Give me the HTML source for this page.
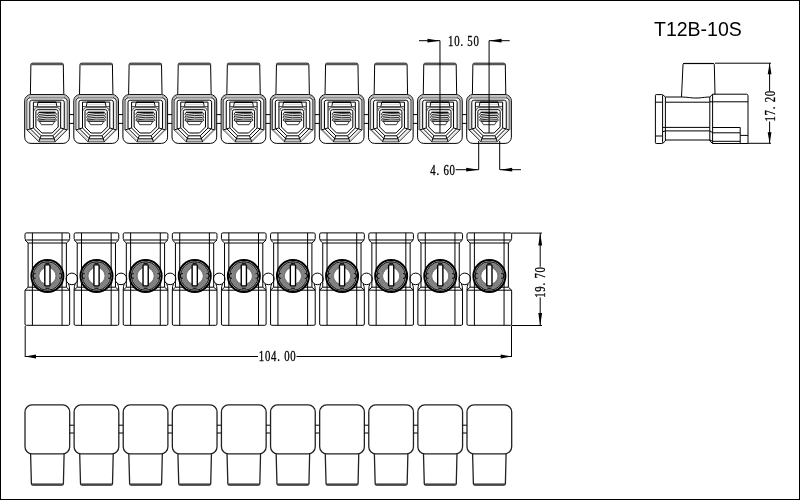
<!DOCTYPE html>
<html><head><meta charset="utf-8"><style>
html,body{margin:0;padding:0;background:#fff;}
body{width:800px;height:500px;overflow:hidden;}
svg{display:block;will-change:transform;}
.s{fill:none;stroke:#000;stroke-width:1;}
.b{fill:none;stroke:#222;stroke-width:1.3;}
.dim{font-family:"Liberation Serif",serif;font-size:14px;letter-spacing:1px;fill:#000;stroke:#000;stroke-width:0.3px;}
.title{font-family:"Liberation Sans",sans-serif;font-size:19.5px;fill:#000;}
</style></head><body>
<svg width="800" height="500" viewBox="0 0 800 500">
<rect x="0.5" y="0.5" width="799" height="499" fill="#fff" stroke="#000" stroke-width="1"/>
<path d="M30.4,94.4 L30.9,64.6 Q30.9,63.2 32.3,63.2 L61.9,63.2 Q63.3,63.2 63.3,64.6 L63.8,94.4" class="s"/>
<line x1="31.1" y1="64.2" x2="63.1" y2="64.2" stroke="#555" stroke-width="2.2"/>
<rect x="24.7" y="94.6" width="44.66" height="48.8" rx="6.2" class="s"/>
<path d="M25.9,130 V100.6 Q25.9,96.1 30.4,96.1 H63.66 Q68.16,96.1 68.16,100.6 V130" stroke="#888" stroke-width="0.9" fill="none"/>
<path d="M26.9,129.9 V100.1 L29.1,97.9 H64.96 L67.16,100.1 V129.9 L55.26,141.8 H38.8 Z" stroke="#333" stroke-width="0.9" fill="none"/>
<path d="M27.7,129.4 L38.4,140.1 H55.66 L66.36,129.4" stroke="#999" stroke-width="0.8" fill="none"/>
<path d="M28.5,100.5 V128.5 M65.56,100.5 V128.5" stroke="#e0e0e0" stroke-width="1" fill="none"/>
<path d="M29.8,128.3 L29.8,102.2 Q29.8,100.2 31.8,100.2 L62.26,100.2 Q64.26,100.2 64.26,102.2 L64.26,128.3 L53.76,138.8 L40.3,138.8 Z" class="s" stroke="#111" stroke-width="1.0"/>
<line x1="26.9" y1="129.9" x2="33.2" y2="128" class="s"/>
<line x1="67.16" y1="129.9" x2="60.86" y2="128" class="s"/>
<line x1="38.8" y1="141.8" x2="41" y2="135.8" class="s"/>
<line x1="55.26" y1="141.8" x2="53.06" y2="135.8" class="s"/>
<path d="M27,100.5 Q27.3,97.8 29.9,97.6 M67.06,100.5 Q66.76,97.8 64.16,97.6" stroke="#333" stroke-width="0.9" fill="none"/>
<path d="M37.1,106.6 L38,102.3 H56.06 L56.96,106.6" stroke="#111" stroke-width="1" fill="none"/>
<line x1="37.9" y1="102.3" x2="56.16" y2="102.3" stroke="#000" stroke-width="1.4"/>
<line x1="38.2" y1="104.4" x2="55.86" y2="104.4" stroke="#d0d0d0" stroke-width="1"/>
<line x1="33.4" y1="106.6" x2="60.66" y2="106.6" stroke="#333" stroke-width="0.9"/>
<path d="M33.4,128 L33.4,102.1 Q33.4,102.1 33.4,102.1 L60.66,102.1 Q60.66,102.1 60.66,102.1 L60.66,128 L52.86,135.8 L41.2,135.8 Z" class="s" stroke="#000"/>
<path d="M34.6,110.5 V109.7 Q34.6,107.7 36.6,107.7 H57.46 Q59.46,107.7 59.46,109.7 V110.5" stroke="#333" stroke-width="0.9" fill="none"/>
<path d="M35.9,127 L35.9,111.7 Q35.9,109.7 37.9,109.7 L56.16,109.7 Q58.16,109.7 58.16,111.7 L58.16,127 L52.16,133 L41.9,133 Z" class="s" stroke-width="1.3"/>
<line x1="38.7" y1="112.3" x2="55.36" y2="112.3" stroke="#000" stroke-width="1.3"/>
<path d="M38.9,114.5 Q47,113.1 55.16,113.9" stroke="#000" stroke-width="0.85" fill="none"/>
<path d="M38.9,116.3 Q47,114.9 55.16,115.7" stroke="#000" stroke-width="0.85" fill="none"/>
<path d="M38.9,118.1 Q47,116.7 55.16,117.5" stroke="#000" stroke-width="0.85" fill="none"/>
<path d="M38.9,119.9 Q47,118.5 55.16,119.3" stroke="#000" stroke-width="0.85" fill="none"/>
<polyline points="38.7,112.4 37.6,114.3 38.6,115.7 37.6,117.3 38.6,118.7 37.6,120.3 38.9,121.2" stroke="#222" stroke-width="1" fill="none"/><polyline points="55.36,112.4 56.46,114.3 55.46,115.7 56.46,117.3 55.46,118.7 56.46,120.3 55.16,121.2" stroke="#222" stroke-width="1" fill="none"/>
<line x1="38.9" y1="121.2" x2="55.16" y2="121.2" stroke="#000" stroke-width="1.2"/>
<path d="M39.5,121.6 L41.5,124.7 L52.56,124.7 L54.56,121.6" stroke="#222" stroke-width="0.9" fill="none"/>
<path d="M69.36,114.6 H73.81 M69.36,123.4 H73.81" class="s"/>
<path d="M79.51,94.4 L80.01,64.6 Q80.01,63.2 81.41,63.2 L111.01,63.2 Q112.41,63.2 112.41,64.6 L112.91,94.4" class="s"/>
<line x1="80.21" y1="64.2" x2="112.21" y2="64.2" stroke="#555" stroke-width="2.2"/>
<rect x="73.81" y="94.6" width="44.66" height="48.8" rx="6.2" class="s"/>
<path d="M75.01,130 V100.6 Q75.01,96.1 79.51,96.1 H112.77 Q117.27,96.1 117.27,100.6 V130" stroke="#888" stroke-width="0.9" fill="none"/>
<path d="M76.01,129.9 V100.1 L78.21,97.9 H114.07 L116.27,100.1 V129.9 L104.37,141.8 H87.91 Z" stroke="#333" stroke-width="0.9" fill="none"/>
<path d="M76.81,129.4 L87.51,140.1 H104.77 L115.47,129.4" stroke="#999" stroke-width="0.8" fill="none"/>
<path d="M77.61,100.5 V128.5 M114.67,100.5 V128.5" stroke="#e0e0e0" stroke-width="1" fill="none"/>
<path d="M78.91,128.3 L78.91,102.2 Q78.91,100.2 80.91,100.2 L111.37,100.2 Q113.37,100.2 113.37,102.2 L113.37,128.3 L102.87,138.8 L89.41,138.8 Z" class="s" stroke="#111" stroke-width="1.0"/>
<line x1="76.01" y1="129.9" x2="82.31" y2="128" class="s"/>
<line x1="116.27" y1="129.9" x2="109.97" y2="128" class="s"/>
<line x1="87.91" y1="141.8" x2="90.11" y2="135.8" class="s"/>
<line x1="104.37" y1="141.8" x2="102.17" y2="135.8" class="s"/>
<path d="M76.11,100.5 Q76.41,97.8 79.01,97.6 M116.17,100.5 Q115.87,97.8 113.27,97.6" stroke="#333" stroke-width="0.9" fill="none"/>
<path d="M86.21,106.6 L87.11,102.3 H105.17 L106.07,106.6" stroke="#111" stroke-width="1" fill="none"/>
<line x1="87.01" y1="102.3" x2="105.27" y2="102.3" stroke="#000" stroke-width="1.4"/>
<line x1="87.31" y1="104.4" x2="104.97" y2="104.4" stroke="#d0d0d0" stroke-width="1"/>
<line x1="82.51" y1="106.6" x2="109.77" y2="106.6" stroke="#333" stroke-width="0.9"/>
<path d="M82.51,128 L82.51,102.1 Q82.51,102.1 82.51,102.1 L109.77,102.1 Q109.77,102.1 109.77,102.1 L109.77,128 L101.97,135.8 L90.31,135.8 Z" class="s" stroke="#000"/>
<path d="M83.71,110.5 V109.7 Q83.71,107.7 85.71,107.7 H106.57 Q108.57,107.7 108.57,109.7 V110.5" stroke="#333" stroke-width="0.9" fill="none"/>
<path d="M85.01,127 L85.01,111.7 Q85.01,109.7 87.01,109.7 L105.27,109.7 Q107.27,109.7 107.27,111.7 L107.27,127 L101.27,133 L91.01,133 Z" class="s" stroke-width="1.3"/>
<line x1="87.81" y1="112.3" x2="104.47" y2="112.3" stroke="#000" stroke-width="1.3"/>
<path d="M88.01,114.5 Q96.11,113.1 104.27,113.9" stroke="#000" stroke-width="0.85" fill="none"/>
<path d="M88.01,116.3 Q96.11,114.9 104.27,115.7" stroke="#000" stroke-width="0.85" fill="none"/>
<path d="M88.01,118.1 Q96.11,116.7 104.27,117.5" stroke="#000" stroke-width="0.85" fill="none"/>
<path d="M88.01,119.9 Q96.11,118.5 104.27,119.3" stroke="#000" stroke-width="0.85" fill="none"/>
<polyline points="87.81,112.4 86.71,114.3 87.71,115.7 86.71,117.3 87.71,118.7 86.71,120.3 88.01,121.2" stroke="#222" stroke-width="1" fill="none"/><polyline points="104.47,112.4 105.57,114.3 104.57,115.7 105.57,117.3 104.57,118.7 105.57,120.3 104.27,121.2" stroke="#222" stroke-width="1" fill="none"/>
<line x1="88.01" y1="121.2" x2="104.27" y2="121.2" stroke="#000" stroke-width="1.2"/>
<path d="M88.61,121.6 L90.61,124.7 L101.67,124.7 L103.67,121.6" stroke="#222" stroke-width="0.9" fill="none"/>
<path d="M118.47,114.6 H122.92 M118.47,123.4 H122.92" class="s"/>
<path d="M128.62,94.4 L129.12,64.6 Q129.12,63.2 130.52,63.2 L160.12,63.2 Q161.52,63.2 161.52,64.6 L162.02,94.4" class="s"/>
<line x1="129.32" y1="64.2" x2="161.32" y2="64.2" stroke="#555" stroke-width="2.2"/>
<rect x="122.92" y="94.6" width="44.66" height="48.8" rx="6.2" class="s"/>
<path d="M124.12,130 V100.6 Q124.12,96.1 128.62,96.1 H161.88 Q166.38,96.1 166.38,100.6 V130" stroke="#888" stroke-width="0.9" fill="none"/>
<path d="M125.12,129.9 V100.1 L127.32,97.9 H163.18 L165.38,100.1 V129.9 L153.48,141.8 H137.02 Z" stroke="#333" stroke-width="0.9" fill="none"/>
<path d="M125.92,129.4 L136.62,140.1 H153.88 L164.58,129.4" stroke="#999" stroke-width="0.8" fill="none"/>
<path d="M126.72,100.5 V128.5 M163.78,100.5 V128.5" stroke="#e0e0e0" stroke-width="1" fill="none"/>
<path d="M128.02,128.3 L128.02,102.2 Q128.02,100.2 130.02,100.2 L160.48,100.2 Q162.48,100.2 162.48,102.2 L162.48,128.3 L151.98,138.8 L138.52,138.8 Z" class="s" stroke="#111" stroke-width="1.0"/>
<line x1="125.12" y1="129.9" x2="131.42" y2="128" class="s"/>
<line x1="165.38" y1="129.9" x2="159.08" y2="128" class="s"/>
<line x1="137.02" y1="141.8" x2="139.22" y2="135.8" class="s"/>
<line x1="153.48" y1="141.8" x2="151.28" y2="135.8" class="s"/>
<path d="M125.22,100.5 Q125.52,97.8 128.12,97.6 M165.28,100.5 Q164.98,97.8 162.38,97.6" stroke="#333" stroke-width="0.9" fill="none"/>
<path d="M135.32,106.6 L136.22,102.3 H154.28 L155.18,106.6" stroke="#111" stroke-width="1" fill="none"/>
<line x1="136.12" y1="102.3" x2="154.38" y2="102.3" stroke="#000" stroke-width="1.4"/>
<line x1="136.42" y1="104.4" x2="154.08" y2="104.4" stroke="#d0d0d0" stroke-width="1"/>
<line x1="131.62" y1="106.6" x2="158.88" y2="106.6" stroke="#333" stroke-width="0.9"/>
<path d="M131.62,128 L131.62,102.1 Q131.62,102.1 131.62,102.1 L158.88,102.1 Q158.88,102.1 158.88,102.1 L158.88,128 L151.08,135.8 L139.42,135.8 Z" class="s" stroke="#000"/>
<path d="M132.82,110.5 V109.7 Q132.82,107.7 134.82,107.7 H155.68 Q157.68,107.7 157.68,109.7 V110.5" stroke="#333" stroke-width="0.9" fill="none"/>
<path d="M134.12,127 L134.12,111.7 Q134.12,109.7 136.12,109.7 L154.38,109.7 Q156.38,109.7 156.38,111.7 L156.38,127 L150.38,133 L140.12,133 Z" class="s" stroke-width="1.3"/>
<line x1="136.92" y1="112.3" x2="153.58" y2="112.3" stroke="#000" stroke-width="1.3"/>
<path d="M137.12,114.5 Q145.22,113.1 153.38,113.9" stroke="#000" stroke-width="0.85" fill="none"/>
<path d="M137.12,116.3 Q145.22,114.9 153.38,115.7" stroke="#000" stroke-width="0.85" fill="none"/>
<path d="M137.12,118.1 Q145.22,116.7 153.38,117.5" stroke="#000" stroke-width="0.85" fill="none"/>
<path d="M137.12,119.9 Q145.22,118.5 153.38,119.3" stroke="#000" stroke-width="0.85" fill="none"/>
<polyline points="136.92,112.4 135.82,114.3 136.82,115.7 135.82,117.3 136.82,118.7 135.82,120.3 137.12,121.2" stroke="#222" stroke-width="1" fill="none"/><polyline points="153.58,112.4 154.68,114.3 153.68,115.7 154.68,117.3 153.68,118.7 154.68,120.3 153.38,121.2" stroke="#222" stroke-width="1" fill="none"/>
<line x1="137.12" y1="121.2" x2="153.38" y2="121.2" stroke="#000" stroke-width="1.2"/>
<path d="M137.72,121.6 L139.72,124.7 L150.78,124.7 L152.78,121.6" stroke="#222" stroke-width="0.9" fill="none"/>
<path d="M167.58,114.6 H172.03 M167.58,123.4 H172.03" class="s"/>
<path d="M177.73,94.4 L178.23,64.6 Q178.23,63.2 179.63,63.2 L209.23,63.2 Q210.63,63.2 210.63,64.6 L211.13,94.4" class="s"/>
<line x1="178.43" y1="64.2" x2="210.43" y2="64.2" stroke="#555" stroke-width="2.2"/>
<rect x="172.03" y="94.6" width="44.66" height="48.8" rx="6.2" class="s"/>
<path d="M173.23,130 V100.6 Q173.23,96.1 177.73,96.1 H210.99 Q215.49,96.1 215.49,100.6 V130" stroke="#888" stroke-width="0.9" fill="none"/>
<path d="M174.23,129.9 V100.1 L176.43,97.9 H212.29 L214.49,100.1 V129.9 L202.59,141.8 H186.13 Z" stroke="#333" stroke-width="0.9" fill="none"/>
<path d="M175.03,129.4 L185.73,140.1 H202.99 L213.69,129.4" stroke="#999" stroke-width="0.8" fill="none"/>
<path d="M175.83,100.5 V128.5 M212.89,100.5 V128.5" stroke="#e0e0e0" stroke-width="1" fill="none"/>
<path d="M177.13,128.3 L177.13,102.2 Q177.13,100.2 179.13,100.2 L209.59,100.2 Q211.59,100.2 211.59,102.2 L211.59,128.3 L201.09,138.8 L187.63,138.8 Z" class="s" stroke="#111" stroke-width="1.0"/>
<line x1="174.23" y1="129.9" x2="180.53" y2="128" class="s"/>
<line x1="214.49" y1="129.9" x2="208.19" y2="128" class="s"/>
<line x1="186.13" y1="141.8" x2="188.33" y2="135.8" class="s"/>
<line x1="202.59" y1="141.8" x2="200.39" y2="135.8" class="s"/>
<path d="M174.33,100.5 Q174.63,97.8 177.23,97.6 M214.39,100.5 Q214.09,97.8 211.49,97.6" stroke="#333" stroke-width="0.9" fill="none"/>
<path d="M184.43,106.6 L185.33,102.3 H203.39 L204.29,106.6" stroke="#111" stroke-width="1" fill="none"/>
<line x1="185.23" y1="102.3" x2="203.49" y2="102.3" stroke="#000" stroke-width="1.4"/>
<line x1="185.53" y1="104.4" x2="203.19" y2="104.4" stroke="#d0d0d0" stroke-width="1"/>
<line x1="180.73" y1="106.6" x2="207.99" y2="106.6" stroke="#333" stroke-width="0.9"/>
<path d="M180.73,128 L180.73,102.1 Q180.73,102.1 180.73,102.1 L207.99,102.1 Q207.99,102.1 207.99,102.1 L207.99,128 L200.19,135.8 L188.53,135.8 Z" class="s" stroke="#000"/>
<path d="M181.93,110.5 V109.7 Q181.93,107.7 183.93,107.7 H204.79 Q206.79,107.7 206.79,109.7 V110.5" stroke="#333" stroke-width="0.9" fill="none"/>
<path d="M183.23,127 L183.23,111.7 Q183.23,109.7 185.23,109.7 L203.49,109.7 Q205.49,109.7 205.49,111.7 L205.49,127 L199.49,133 L189.23,133 Z" class="s" stroke-width="1.3"/>
<line x1="186.03" y1="112.3" x2="202.69" y2="112.3" stroke="#000" stroke-width="1.3"/>
<path d="M186.23,114.5 Q194.33,113.1 202.49,113.9" stroke="#000" stroke-width="0.85" fill="none"/>
<path d="M186.23,116.3 Q194.33,114.9 202.49,115.7" stroke="#000" stroke-width="0.85" fill="none"/>
<path d="M186.23,118.1 Q194.33,116.7 202.49,117.5" stroke="#000" stroke-width="0.85" fill="none"/>
<path d="M186.23,119.9 Q194.33,118.5 202.49,119.3" stroke="#000" stroke-width="0.85" fill="none"/>
<polyline points="186.03,112.4 184.93,114.3 185.93,115.7 184.93,117.3 185.93,118.7 184.93,120.3 186.23,121.2" stroke="#222" stroke-width="1" fill="none"/><polyline points="202.69,112.4 203.79,114.3 202.79,115.7 203.79,117.3 202.79,118.7 203.79,120.3 202.49,121.2" stroke="#222" stroke-width="1" fill="none"/>
<line x1="186.23" y1="121.2" x2="202.49" y2="121.2" stroke="#000" stroke-width="1.2"/>
<path d="M186.83,121.6 L188.83,124.7 L199.89,124.7 L201.89,121.6" stroke="#222" stroke-width="0.9" fill="none"/>
<path d="M216.69,114.6 H221.14 M216.69,123.4 H221.14" class="s"/>
<path d="M226.84,94.4 L227.34,64.6 Q227.34,63.2 228.74,63.2 L258.34,63.2 Q259.74,63.2 259.74,64.6 L260.24,94.4" class="s"/>
<line x1="227.54" y1="64.2" x2="259.54" y2="64.2" stroke="#555" stroke-width="2.2"/>
<rect x="221.14" y="94.6" width="44.66" height="48.8" rx="6.2" class="s"/>
<path d="M222.34,130 V100.6 Q222.34,96.1 226.84,96.1 H260.1 Q264.6,96.1 264.6,100.6 V130" stroke="#888" stroke-width="0.9" fill="none"/>
<path d="M223.34,129.9 V100.1 L225.54,97.9 H261.4 L263.6,100.1 V129.9 L251.7,141.8 H235.24 Z" stroke="#333" stroke-width="0.9" fill="none"/>
<path d="M224.14,129.4 L234.84,140.1 H252.1 L262.8,129.4" stroke="#999" stroke-width="0.8" fill="none"/>
<path d="M224.94,100.5 V128.5 M262,100.5 V128.5" stroke="#e0e0e0" stroke-width="1" fill="none"/>
<path d="M226.24,128.3 L226.24,102.2 Q226.24,100.2 228.24,100.2 L258.7,100.2 Q260.7,100.2 260.7,102.2 L260.7,128.3 L250.2,138.8 L236.74,138.8 Z" class="s" stroke="#111" stroke-width="1.0"/>
<line x1="223.34" y1="129.9" x2="229.64" y2="128" class="s"/>
<line x1="263.6" y1="129.9" x2="257.3" y2="128" class="s"/>
<line x1="235.24" y1="141.8" x2="237.44" y2="135.8" class="s"/>
<line x1="251.7" y1="141.8" x2="249.5" y2="135.8" class="s"/>
<path d="M223.44,100.5 Q223.74,97.8 226.34,97.6 M263.5,100.5 Q263.2,97.8 260.6,97.6" stroke="#333" stroke-width="0.9" fill="none"/>
<path d="M233.54,106.6 L234.44,102.3 H252.5 L253.4,106.6" stroke="#111" stroke-width="1" fill="none"/>
<line x1="234.34" y1="102.3" x2="252.6" y2="102.3" stroke="#000" stroke-width="1.4"/>
<line x1="234.64" y1="104.4" x2="252.3" y2="104.4" stroke="#d0d0d0" stroke-width="1"/>
<line x1="229.84" y1="106.6" x2="257.1" y2="106.6" stroke="#333" stroke-width="0.9"/>
<path d="M229.84,128 L229.84,102.1 Q229.84,102.1 229.84,102.1 L257.1,102.1 Q257.1,102.1 257.1,102.1 L257.1,128 L249.3,135.8 L237.64,135.8 Z" class="s" stroke="#000"/>
<path d="M231.04,110.5 V109.7 Q231.04,107.7 233.04,107.7 H253.9 Q255.9,107.7 255.9,109.7 V110.5" stroke="#333" stroke-width="0.9" fill="none"/>
<path d="M232.34,127 L232.34,111.7 Q232.34,109.7 234.34,109.7 L252.6,109.7 Q254.6,109.7 254.6,111.7 L254.6,127 L248.6,133 L238.34,133 Z" class="s" stroke-width="1.3"/>
<line x1="235.14" y1="112.3" x2="251.8" y2="112.3" stroke="#000" stroke-width="1.3"/>
<path d="M235.34,114.5 Q243.44,113.1 251.6,113.9" stroke="#000" stroke-width="0.85" fill="none"/>
<path d="M235.34,116.3 Q243.44,114.9 251.6,115.7" stroke="#000" stroke-width="0.85" fill="none"/>
<path d="M235.34,118.1 Q243.44,116.7 251.6,117.5" stroke="#000" stroke-width="0.85" fill="none"/>
<path d="M235.34,119.9 Q243.44,118.5 251.6,119.3" stroke="#000" stroke-width="0.85" fill="none"/>
<polyline points="235.14,112.4 234.04,114.3 235.04,115.7 234.04,117.3 235.04,118.7 234.04,120.3 235.34,121.2" stroke="#222" stroke-width="1" fill="none"/><polyline points="251.8,112.4 252.9,114.3 251.9,115.7 252.9,117.3 251.9,118.7 252.9,120.3 251.6,121.2" stroke="#222" stroke-width="1" fill="none"/>
<line x1="235.34" y1="121.2" x2="251.6" y2="121.2" stroke="#000" stroke-width="1.2"/>
<path d="M235.94,121.6 L237.94,124.7 L249,124.7 L251,121.6" stroke="#222" stroke-width="0.9" fill="none"/>
<path d="M265.8,114.6 H270.25 M265.8,123.4 H270.25" class="s"/>
<path d="M275.95,94.4 L276.45,64.6 Q276.45,63.2 277.85,63.2 L307.45,63.2 Q308.85,63.2 308.85,64.6 L309.35,94.4" class="s"/>
<line x1="276.65" y1="64.2" x2="308.65" y2="64.2" stroke="#555" stroke-width="2.2"/>
<rect x="270.25" y="94.6" width="44.66" height="48.8" rx="6.2" class="s"/>
<path d="M271.45,130 V100.6 Q271.45,96.1 275.95,96.1 H309.21 Q313.71,96.1 313.71,100.6 V130" stroke="#888" stroke-width="0.9" fill="none"/>
<path d="M272.45,129.9 V100.1 L274.65,97.9 H310.51 L312.71,100.1 V129.9 L300.81,141.8 H284.35 Z" stroke="#333" stroke-width="0.9" fill="none"/>
<path d="M273.25,129.4 L283.95,140.1 H301.21 L311.91,129.4" stroke="#999" stroke-width="0.8" fill="none"/>
<path d="M274.05,100.5 V128.5 M311.11,100.5 V128.5" stroke="#e0e0e0" stroke-width="1" fill="none"/>
<path d="M275.35,128.3 L275.35,102.2 Q275.35,100.2 277.35,100.2 L307.81,100.2 Q309.81,100.2 309.81,102.2 L309.81,128.3 L299.31,138.8 L285.85,138.8 Z" class="s" stroke="#111" stroke-width="1.0"/>
<line x1="272.45" y1="129.9" x2="278.75" y2="128" class="s"/>
<line x1="312.71" y1="129.9" x2="306.41" y2="128" class="s"/>
<line x1="284.35" y1="141.8" x2="286.55" y2="135.8" class="s"/>
<line x1="300.81" y1="141.8" x2="298.61" y2="135.8" class="s"/>
<path d="M272.55,100.5 Q272.85,97.8 275.45,97.6 M312.61,100.5 Q312.31,97.8 309.71,97.6" stroke="#333" stroke-width="0.9" fill="none"/>
<path d="M282.65,106.6 L283.55,102.3 H301.61 L302.51,106.6" stroke="#111" stroke-width="1" fill="none"/>
<line x1="283.45" y1="102.3" x2="301.71" y2="102.3" stroke="#000" stroke-width="1.4"/>
<line x1="283.75" y1="104.4" x2="301.41" y2="104.4" stroke="#d0d0d0" stroke-width="1"/>
<line x1="278.95" y1="106.6" x2="306.21" y2="106.6" stroke="#333" stroke-width="0.9"/>
<path d="M278.95,128 L278.95,102.1 Q278.95,102.1 278.95,102.1 L306.21,102.1 Q306.21,102.1 306.21,102.1 L306.21,128 L298.41,135.8 L286.75,135.8 Z" class="s" stroke="#000"/>
<path d="M280.15,110.5 V109.7 Q280.15,107.7 282.15,107.7 H303.01 Q305.01,107.7 305.01,109.7 V110.5" stroke="#333" stroke-width="0.9" fill="none"/>
<path d="M281.45,127 L281.45,111.7 Q281.45,109.7 283.45,109.7 L301.71,109.7 Q303.71,109.7 303.71,111.7 L303.71,127 L297.71,133 L287.45,133 Z" class="s" stroke-width="1.3"/>
<line x1="284.25" y1="112.3" x2="300.91" y2="112.3" stroke="#000" stroke-width="1.3"/>
<path d="M284.45,114.5 Q292.55,113.1 300.71,113.9" stroke="#000" stroke-width="0.85" fill="none"/>
<path d="M284.45,116.3 Q292.55,114.9 300.71,115.7" stroke="#000" stroke-width="0.85" fill="none"/>
<path d="M284.45,118.1 Q292.55,116.7 300.71,117.5" stroke="#000" stroke-width="0.85" fill="none"/>
<path d="M284.45,119.9 Q292.55,118.5 300.71,119.3" stroke="#000" stroke-width="0.85" fill="none"/>
<polyline points="284.25,112.4 283.15,114.3 284.15,115.7 283.15,117.3 284.15,118.7 283.15,120.3 284.45,121.2" stroke="#222" stroke-width="1" fill="none"/><polyline points="300.91,112.4 302.01,114.3 301.01,115.7 302.01,117.3 301.01,118.7 302.01,120.3 300.71,121.2" stroke="#222" stroke-width="1" fill="none"/>
<line x1="284.45" y1="121.2" x2="300.71" y2="121.2" stroke="#000" stroke-width="1.2"/>
<path d="M285.05,121.6 L287.05,124.7 L298.11,124.7 L300.11,121.6" stroke="#222" stroke-width="0.9" fill="none"/>
<path d="M314.91,114.6 H319.36 M314.91,123.4 H319.36" class="s"/>
<path d="M325.06,94.4 L325.56,64.6 Q325.56,63.2 326.96,63.2 L356.56,63.2 Q357.96,63.2 357.96,64.6 L358.46,94.4" class="s"/>
<line x1="325.76" y1="64.2" x2="357.76" y2="64.2" stroke="#555" stroke-width="2.2"/>
<rect x="319.36" y="94.6" width="44.66" height="48.8" rx="6.2" class="s"/>
<path d="M320.56,130 V100.6 Q320.56,96.1 325.06,96.1 H358.32 Q362.82,96.1 362.82,100.6 V130" stroke="#888" stroke-width="0.9" fill="none"/>
<path d="M321.56,129.9 V100.1 L323.76,97.9 H359.62 L361.82,100.1 V129.9 L349.92,141.8 H333.46 Z" stroke="#333" stroke-width="0.9" fill="none"/>
<path d="M322.36,129.4 L333.06,140.1 H350.32 L361.02,129.4" stroke="#999" stroke-width="0.8" fill="none"/>
<path d="M323.16,100.5 V128.5 M360.22,100.5 V128.5" stroke="#e0e0e0" stroke-width="1" fill="none"/>
<path d="M324.46,128.3 L324.46,102.2 Q324.46,100.2 326.46,100.2 L356.92,100.2 Q358.92,100.2 358.92,102.2 L358.92,128.3 L348.42,138.8 L334.96,138.8 Z" class="s" stroke="#111" stroke-width="1.0"/>
<line x1="321.56" y1="129.9" x2="327.86" y2="128" class="s"/>
<line x1="361.82" y1="129.9" x2="355.52" y2="128" class="s"/>
<line x1="333.46" y1="141.8" x2="335.66" y2="135.8" class="s"/>
<line x1="349.92" y1="141.8" x2="347.72" y2="135.8" class="s"/>
<path d="M321.66,100.5 Q321.96,97.8 324.56,97.6 M361.72,100.5 Q361.42,97.8 358.82,97.6" stroke="#333" stroke-width="0.9" fill="none"/>
<path d="M331.76,106.6 L332.66,102.3 H350.72 L351.62,106.6" stroke="#111" stroke-width="1" fill="none"/>
<line x1="332.56" y1="102.3" x2="350.82" y2="102.3" stroke="#000" stroke-width="1.4"/>
<line x1="332.86" y1="104.4" x2="350.52" y2="104.4" stroke="#d0d0d0" stroke-width="1"/>
<line x1="328.06" y1="106.6" x2="355.32" y2="106.6" stroke="#333" stroke-width="0.9"/>
<path d="M328.06,128 L328.06,102.1 Q328.06,102.1 328.06,102.1 L355.32,102.1 Q355.32,102.1 355.32,102.1 L355.32,128 L347.52,135.8 L335.86,135.8 Z" class="s" stroke="#000"/>
<path d="M329.26,110.5 V109.7 Q329.26,107.7 331.26,107.7 H352.12 Q354.12,107.7 354.12,109.7 V110.5" stroke="#333" stroke-width="0.9" fill="none"/>
<path d="M330.56,127 L330.56,111.7 Q330.56,109.7 332.56,109.7 L350.82,109.7 Q352.82,109.7 352.82,111.7 L352.82,127 L346.82,133 L336.56,133 Z" class="s" stroke-width="1.3"/>
<line x1="333.36" y1="112.3" x2="350.02" y2="112.3" stroke="#000" stroke-width="1.3"/>
<path d="M333.56,114.5 Q341.66,113.1 349.82,113.9" stroke="#000" stroke-width="0.85" fill="none"/>
<path d="M333.56,116.3 Q341.66,114.9 349.82,115.7" stroke="#000" stroke-width="0.85" fill="none"/>
<path d="M333.56,118.1 Q341.66,116.7 349.82,117.5" stroke="#000" stroke-width="0.85" fill="none"/>
<path d="M333.56,119.9 Q341.66,118.5 349.82,119.3" stroke="#000" stroke-width="0.85" fill="none"/>
<polyline points="333.36,112.4 332.26,114.3 333.26,115.7 332.26,117.3 333.26,118.7 332.26,120.3 333.56,121.2" stroke="#222" stroke-width="1" fill="none"/><polyline points="350.02,112.4 351.12,114.3 350.12,115.7 351.12,117.3 350.12,118.7 351.12,120.3 349.82,121.2" stroke="#222" stroke-width="1" fill="none"/>
<line x1="333.56" y1="121.2" x2="349.82" y2="121.2" stroke="#000" stroke-width="1.2"/>
<path d="M334.16,121.6 L336.16,124.7 L347.22,124.7 L349.22,121.6" stroke="#222" stroke-width="0.9" fill="none"/>
<path d="M364.02,114.6 H368.47 M364.02,123.4 H368.47" class="s"/>
<path d="M374.17,94.4 L374.67,64.6 Q374.67,63.2 376.07,63.2 L405.67,63.2 Q407.07,63.2 407.07,64.6 L407.57,94.4" class="s"/>
<line x1="374.87" y1="64.2" x2="406.87" y2="64.2" stroke="#555" stroke-width="2.2"/>
<rect x="368.47" y="94.6" width="44.66" height="48.8" rx="6.2" class="s"/>
<path d="M369.67,130 V100.6 Q369.67,96.1 374.17,96.1 H407.43 Q411.93,96.1 411.93,100.6 V130" stroke="#888" stroke-width="0.9" fill="none"/>
<path d="M370.67,129.9 V100.1 L372.87,97.9 H408.73 L410.93,100.1 V129.9 L399.03,141.8 H382.57 Z" stroke="#333" stroke-width="0.9" fill="none"/>
<path d="M371.47,129.4 L382.17,140.1 H399.43 L410.13,129.4" stroke="#999" stroke-width="0.8" fill="none"/>
<path d="M372.27,100.5 V128.5 M409.33,100.5 V128.5" stroke="#e0e0e0" stroke-width="1" fill="none"/>
<path d="M373.57,128.3 L373.57,102.2 Q373.57,100.2 375.57,100.2 L406.03,100.2 Q408.03,100.2 408.03,102.2 L408.03,128.3 L397.53,138.8 L384.07,138.8 Z" class="s" stroke="#111" stroke-width="1.0"/>
<line x1="370.67" y1="129.9" x2="376.97" y2="128" class="s"/>
<line x1="410.93" y1="129.9" x2="404.63" y2="128" class="s"/>
<line x1="382.57" y1="141.8" x2="384.77" y2="135.8" class="s"/>
<line x1="399.03" y1="141.8" x2="396.83" y2="135.8" class="s"/>
<path d="M370.77,100.5 Q371.07,97.8 373.67,97.6 M410.83,100.5 Q410.53,97.8 407.93,97.6" stroke="#333" stroke-width="0.9" fill="none"/>
<path d="M380.87,106.6 L381.77,102.3 H399.83 L400.73,106.6" stroke="#111" stroke-width="1" fill="none"/>
<line x1="381.67" y1="102.3" x2="399.93" y2="102.3" stroke="#000" stroke-width="1.4"/>
<line x1="381.97" y1="104.4" x2="399.63" y2="104.4" stroke="#d0d0d0" stroke-width="1"/>
<line x1="377.17" y1="106.6" x2="404.43" y2="106.6" stroke="#333" stroke-width="0.9"/>
<path d="M377.17,128 L377.17,102.1 Q377.17,102.1 377.17,102.1 L404.43,102.1 Q404.43,102.1 404.43,102.1 L404.43,128 L396.63,135.8 L384.97,135.8 Z" class="s" stroke="#000"/>
<path d="M378.37,110.5 V109.7 Q378.37,107.7 380.37,107.7 H401.23 Q403.23,107.7 403.23,109.7 V110.5" stroke="#333" stroke-width="0.9" fill="none"/>
<path d="M379.67,127 L379.67,111.7 Q379.67,109.7 381.67,109.7 L399.93,109.7 Q401.93,109.7 401.93,111.7 L401.93,127 L395.93,133 L385.67,133 Z" class="s" stroke-width="1.3"/>
<line x1="382.47" y1="112.3" x2="399.13" y2="112.3" stroke="#000" stroke-width="1.3"/>
<path d="M382.67,114.5 Q390.77,113.1 398.93,113.9" stroke="#000" stroke-width="0.85" fill="none"/>
<path d="M382.67,116.3 Q390.77,114.9 398.93,115.7" stroke="#000" stroke-width="0.85" fill="none"/>
<path d="M382.67,118.1 Q390.77,116.7 398.93,117.5" stroke="#000" stroke-width="0.85" fill="none"/>
<path d="M382.67,119.9 Q390.77,118.5 398.93,119.3" stroke="#000" stroke-width="0.85" fill="none"/>
<polyline points="382.47,112.4 381.37,114.3 382.37,115.7 381.37,117.3 382.37,118.7 381.37,120.3 382.67,121.2" stroke="#222" stroke-width="1" fill="none"/><polyline points="399.13,112.4 400.23,114.3 399.23,115.7 400.23,117.3 399.23,118.7 400.23,120.3 398.93,121.2" stroke="#222" stroke-width="1" fill="none"/>
<line x1="382.67" y1="121.2" x2="398.93" y2="121.2" stroke="#000" stroke-width="1.2"/>
<path d="M383.27,121.6 L385.27,124.7 L396.33,124.7 L398.33,121.6" stroke="#222" stroke-width="0.9" fill="none"/>
<path d="M413.13,114.6 H417.58 M413.13,123.4 H417.58" class="s"/>
<path d="M423.28,94.4 L423.78,64.6 Q423.78,63.2 425.18,63.2 L454.78,63.2 Q456.18,63.2 456.18,64.6 L456.68,94.4" class="s"/>
<line x1="423.98" y1="64.2" x2="455.98" y2="64.2" stroke="#555" stroke-width="2.2"/>
<rect x="417.58" y="94.6" width="44.66" height="48.8" rx="6.2" class="s"/>
<path d="M418.78,130 V100.6 Q418.78,96.1 423.28,96.1 H456.54 Q461.04,96.1 461.04,100.6 V130" stroke="#888" stroke-width="0.9" fill="none"/>
<path d="M419.78,129.9 V100.1 L421.98,97.9 H457.84 L460.04,100.1 V129.9 L448.14,141.8 H431.68 Z" stroke="#333" stroke-width="0.9" fill="none"/>
<path d="M420.58,129.4 L431.28,140.1 H448.54 L459.24,129.4" stroke="#999" stroke-width="0.8" fill="none"/>
<path d="M421.38,100.5 V128.5 M458.44,100.5 V128.5" stroke="#e0e0e0" stroke-width="1" fill="none"/>
<path d="M422.68,128.3 L422.68,102.2 Q422.68,100.2 424.68,100.2 L455.14,100.2 Q457.14,100.2 457.14,102.2 L457.14,128.3 L446.64,138.8 L433.18,138.8 Z" class="s" stroke="#111" stroke-width="1.0"/>
<line x1="419.78" y1="129.9" x2="426.08" y2="128" class="s"/>
<line x1="460.04" y1="129.9" x2="453.74" y2="128" class="s"/>
<line x1="431.68" y1="141.8" x2="433.88" y2="135.8" class="s"/>
<line x1="448.14" y1="141.8" x2="445.94" y2="135.8" class="s"/>
<path d="M419.88,100.5 Q420.18,97.8 422.78,97.6 M459.94,100.5 Q459.64,97.8 457.04,97.6" stroke="#333" stroke-width="0.9" fill="none"/>
<path d="M429.98,106.6 L430.88,102.3 H448.94 L449.84,106.6" stroke="#111" stroke-width="1" fill="none"/>
<line x1="430.78" y1="102.3" x2="449.04" y2="102.3" stroke="#000" stroke-width="1.4"/>
<line x1="431.08" y1="104.4" x2="448.74" y2="104.4" stroke="#d0d0d0" stroke-width="1"/>
<line x1="426.28" y1="106.6" x2="453.54" y2="106.6" stroke="#333" stroke-width="0.9"/>
<path d="M426.28,128 L426.28,102.1 Q426.28,102.1 426.28,102.1 L453.54,102.1 Q453.54,102.1 453.54,102.1 L453.54,128 L445.74,135.8 L434.08,135.8 Z" class="s" stroke="#000"/>
<path d="M427.48,110.5 V109.7 Q427.48,107.7 429.48,107.7 H450.34 Q452.34,107.7 452.34,109.7 V110.5" stroke="#333" stroke-width="0.9" fill="none"/>
<path d="M428.78,127 L428.78,111.7 Q428.78,109.7 430.78,109.7 L449.04,109.7 Q451.04,109.7 451.04,111.7 L451.04,127 L445.04,133 L434.78,133 Z" class="s" stroke-width="1.3"/>
<line x1="431.58" y1="112.3" x2="448.24" y2="112.3" stroke="#000" stroke-width="1.3"/>
<path d="M431.78,114.5 Q439.88,113.1 448.04,113.9" stroke="#000" stroke-width="0.85" fill="none"/>
<path d="M431.78,116.3 Q439.88,114.9 448.04,115.7" stroke="#000" stroke-width="0.85" fill="none"/>
<path d="M431.78,118.1 Q439.88,116.7 448.04,117.5" stroke="#000" stroke-width="0.85" fill="none"/>
<path d="M431.78,119.9 Q439.88,118.5 448.04,119.3" stroke="#000" stroke-width="0.85" fill="none"/>
<polyline points="431.58,112.4 430.48,114.3 431.48,115.7 430.48,117.3 431.48,118.7 430.48,120.3 431.78,121.2" stroke="#222" stroke-width="1" fill="none"/><polyline points="448.24,112.4 449.34,114.3 448.34,115.7 449.34,117.3 448.34,118.7 449.34,120.3 448.04,121.2" stroke="#222" stroke-width="1" fill="none"/>
<line x1="431.78" y1="121.2" x2="448.04" y2="121.2" stroke="#000" stroke-width="1.2"/>
<path d="M432.38,121.6 L434.38,124.7 L445.44,124.7 L447.44,121.6" stroke="#222" stroke-width="0.9" fill="none"/>
<path d="M462.24,114.6 H466.69 M462.24,123.4 H466.69" class="s"/>
<path d="M472.39,94.4 L472.89,64.6 Q472.89,63.2 474.29,63.2 L503.89,63.2 Q505.29,63.2 505.29,64.6 L505.79,94.4" class="s"/>
<line x1="473.09" y1="64.2" x2="505.09" y2="64.2" stroke="#555" stroke-width="2.2"/>
<rect x="466.69" y="94.6" width="44.66" height="48.8" rx="6.2" class="s"/>
<path d="M467.89,130 V100.6 Q467.89,96.1 472.39,96.1 H505.65 Q510.15,96.1 510.15,100.6 V130" stroke="#888" stroke-width="0.9" fill="none"/>
<path d="M468.89,129.9 V100.1 L471.09,97.9 H506.95 L509.15,100.1 V129.9 L497.25,141.8 H480.79 Z" stroke="#333" stroke-width="0.9" fill="none"/>
<path d="M469.69,129.4 L480.39,140.1 H497.65 L508.35,129.4" stroke="#999" stroke-width="0.8" fill="none"/>
<path d="M470.49,100.5 V128.5 M507.55,100.5 V128.5" stroke="#e0e0e0" stroke-width="1" fill="none"/>
<path d="M471.79,128.3 L471.79,102.2 Q471.79,100.2 473.79,100.2 L504.25,100.2 Q506.25,100.2 506.25,102.2 L506.25,128.3 L495.75,138.8 L482.29,138.8 Z" class="s" stroke="#111" stroke-width="1.0"/>
<line x1="468.89" y1="129.9" x2="475.19" y2="128" class="s"/>
<line x1="509.15" y1="129.9" x2="502.85" y2="128" class="s"/>
<line x1="480.79" y1="141.8" x2="482.99" y2="135.8" class="s"/>
<line x1="497.25" y1="141.8" x2="495.05" y2="135.8" class="s"/>
<path d="M468.99,100.5 Q469.29,97.8 471.89,97.6 M509.05,100.5 Q508.75,97.8 506.15,97.6" stroke="#333" stroke-width="0.9" fill="none"/>
<path d="M479.09,106.6 L479.99,102.3 H498.05 L498.95,106.6" stroke="#111" stroke-width="1" fill="none"/>
<line x1="479.89" y1="102.3" x2="498.15" y2="102.3" stroke="#000" stroke-width="1.4"/>
<line x1="480.19" y1="104.4" x2="497.85" y2="104.4" stroke="#d0d0d0" stroke-width="1"/>
<line x1="475.39" y1="106.6" x2="502.65" y2="106.6" stroke="#333" stroke-width="0.9"/>
<path d="M475.39,128 L475.39,102.1 Q475.39,102.1 475.39,102.1 L502.65,102.1 Q502.65,102.1 502.65,102.1 L502.65,128 L494.85,135.8 L483.19,135.8 Z" class="s" stroke="#000"/>
<path d="M476.59,110.5 V109.7 Q476.59,107.7 478.59,107.7 H499.45 Q501.45,107.7 501.45,109.7 V110.5" stroke="#333" stroke-width="0.9" fill="none"/>
<path d="M477.89,127 L477.89,111.7 Q477.89,109.7 479.89,109.7 L498.15,109.7 Q500.15,109.7 500.15,111.7 L500.15,127 L494.15,133 L483.89,133 Z" class="s" stroke-width="1.3"/>
<line x1="480.69" y1="112.3" x2="497.35" y2="112.3" stroke="#000" stroke-width="1.3"/>
<path d="M480.89,114.5 Q488.99,113.1 497.15,113.9" stroke="#000" stroke-width="0.85" fill="none"/>
<path d="M480.89,116.3 Q488.99,114.9 497.15,115.7" stroke="#000" stroke-width="0.85" fill="none"/>
<path d="M480.89,118.1 Q488.99,116.7 497.15,117.5" stroke="#000" stroke-width="0.85" fill="none"/>
<path d="M480.89,119.9 Q488.99,118.5 497.15,119.3" stroke="#000" stroke-width="0.85" fill="none"/>
<polyline points="480.69,112.4 479.59,114.3 480.59,115.7 479.59,117.3 480.59,118.7 479.59,120.3 480.89,121.2" stroke="#222" stroke-width="1" fill="none"/><polyline points="497.35,112.4 498.45,114.3 497.45,115.7 498.45,117.3 497.45,118.7 498.45,120.3 497.15,121.2" stroke="#222" stroke-width="1" fill="none"/>
<line x1="480.89" y1="121.2" x2="497.15" y2="121.2" stroke="#000" stroke-width="1.2"/>
<path d="M481.49,121.6 L483.49,124.7 L494.55,124.7 L496.55,121.6" stroke="#222" stroke-width="0.9" fill="none"/>
<line x1="439.98" y1="40.7" x2="439.98" y2="133" class="s"/>
<line x1="489.09" y1="40.7" x2="489.09" y2="133" class="s"/>
<line x1="419" y1="40.7" x2="439.98" y2="40.7" class="s"/>
<line x1="489.09" y1="40.7" x2="509.7" y2="40.7" class="s"/>
<path d="M439.98,40.7 L427.48,42.6 L427.48,38.8 Z" fill="#000" stroke="none"/>
<path d="M489.09,40.7 L501.59,38.8 L501.59,42.6 Z" fill="#000" stroke="none"/>
<text class="dim" transform="translate(448.1,46) scale(0.77,1)">10. 50</text>
<line x1="478.7" y1="141" x2="478.7" y2="169.7" class="s"/>
<line x1="499.7" y1="141" x2="499.7" y2="169.7" class="s"/>
<line x1="455.7" y1="169.7" x2="478.7" y2="169.7" class="s"/>
<line x1="499.7" y1="169.7" x2="521" y2="169.7" class="s"/>
<path d="M478.7,169.7 L466.2,171.6 L466.2,167.8 Z" fill="#000" stroke="none"/>
<path d="M499.7,169.7 L512.2,167.8 L512.2,171.6 Z" fill="#000" stroke="none"/>
<text class="dim" transform="translate(430.3,174.8) scale(0.77,1)">4. 60</text>
<text x="654" y="35.5" class="title">T12B-10S</text>
<path d="M681.5,97 L683,64.5 Q683.2,63.4 684.5,63.4 L713,63.4 Q714.2,63.4 714.3,64.5 L715,94.5" class="s"/>
<line x1="683" y1="63.6" x2="714" y2="63.6" class="s" stroke-width="1.4"/>
<path d="M665.4,97 H681.5 C688,97 691,98.3 698,98 C703,97.7 706,97 709.8,97" class="s"/>
<rect x="655.4" y="94.6" width="7.2" height="48.9" rx="0.8" class="s"/>
<line x1="655.4" y1="102.2" x2="662.6" y2="102.2" class="s"/>
<line x1="655.4" y1="136" x2="662.6" y2="136" class="s"/>
<path d="M662.6,94.6 L665.4,97 L665.4,141 L662.6,143.5" class="s"/>
<line x1="665.4" y1="102.2" x2="709.8" y2="102.2" class="s"/>
<line x1="662.6" y1="127.4" x2="709.8" y2="127.4" class="s"/>
<line x1="665.4" y1="130.9" x2="709.8" y2="130.9" class="s"/>
<line x1="665.4" y1="140" x2="709.8" y2="140" class="s" stroke-width="1.3"/>
<path d="M662.6,131.8 L665.4,130.9 M709.8,130.9 L712.6,132.6 M709.8,140 L712.6,141.3" class="s"/>
<path d="M712.6,94.2 L709.8,97 L709.8,141 L712.6,143.5" class="s"/>
<path d="M712.6,143.5 L712.6,94.2 L746.5,94.2 Q748,94.2 748,95.7 L748,143.5 Z" class="s"/>
<line x1="709.8" y1="101.8" x2="748" y2="101.8" class="s"/>
<path d="M712.6,127.5 L740.2,127.5 L740.2,143.5" class="s"/>
<line x1="712.6" y1="132.8" x2="740.2" y2="132.8" class="s"/>
<line x1="712.6" y1="141.3" x2="740.2" y2="141.3" class="s"/>
<line x1="740.2" y1="135.4" x2="748" y2="135.4" class="s"/>
<line x1="715" y1="63.2" x2="771" y2="63.2" class="s"/>
<line x1="748" y1="143.3" x2="771" y2="143.3" class="s"/>
<line x1="769.6" y1="63.2" x2="769.6" y2="91" class="s"/>
<line x1="769.6" y1="121.5" x2="769.6" y2="143.3" class="s"/>
<path d="M769.6,63.2 L771.5,74.2 L767.7,74.2 Z" fill="#000" stroke="none"/>
<path d="M769.6,143.3 L767.7,132.3 L771.5,132.3 Z" fill="#000" stroke="none"/>
<text class="dim" transform="translate(774.6,121.6) rotate(-90) scale(0.77,1)">17. 20</text>
<rect x="25" y="232.9" width="44.66" height="7.1" rx="1.4" class="s"/>
<path d="M25,240 L28.1,243 L66.36,243 L69.66,240" class="s"/>
<line x1="28.1" y1="243" x2="28.1" y2="287.2" class="s"/>
<line x1="32.4" y1="232.9" x2="32.4" y2="325.3" class="s"/>
<line x1="62.06" y1="232.9" x2="62.06" y2="325.3" class="s"/>
<line x1="66.36" y1="243" x2="66.36" y2="287.2" class="s"/>
<path d="M25,290.2 L28.1,287.2 L66.36,287.2 L69.66,290.2 Z" class="s"/>
<path d="M25,290.2 L25,324 Q25,325.3 26.3,325.3 L68.36,325.3 Q69.66,325.3 69.66,324 L69.66,290.2" class="s"/>
<circle cx="47.4" cy="276" r="16.0" fill="#fff" stroke="#000" stroke-width="2.0"/>
<circle cx="47.4" cy="276" r="11.2" fill="none" stroke="#6e6e6e" stroke-width="6.6"/>
<circle cx="47.4" cy="276" r="14.4" fill="none" stroke="#111" stroke-width="0.9"/>
<circle cx="47.4" cy="276" r="13" fill="none" stroke="#aaa" stroke-width="0.5"/>
<circle cx="47.4" cy="276" r="11.6" fill="none" stroke="#b0b0b0" stroke-width="0.5"/>
<circle cx="47.4" cy="276" r="10.2" fill="none" stroke="#aaa" stroke-width="0.5"/>
<circle cx="47.4" cy="276" r="8.7" fill="none" stroke="#999" stroke-width="0.5"/>
<circle cx="47.4" cy="276" r="7.9" fill="#fff" stroke="none"/>
<rect x="44.8" y="264.9" width="5.2" height="21.0" rx="0.8" fill="#fff" stroke="#000" stroke-width="1.4"/>
<path d="M45.4,263.3 L49.4,263.3 M45.4,288.2 L49.4,288.2" class="s" stroke-width="1.6"/>
<path d="M35.6,273.6 A2.2,2.4 0 1 0 35.6,278.2 M59.2,273.6 A2.2,2.4 0 1 1 59.2,278.2" class="s" stroke-width="1.3"/>
<circle cx="71.88" cy="278.9" r="5.8" class="s"/>
<path d="M68.58,283.9 Q69.66,286 69.66,290.2 M75.18,283.9 Q74.11,286 74.11,290.2" class="s"/>
<rect x="74.11" y="232.9" width="44.66" height="7.1" rx="1.4" class="s"/>
<path d="M74.11,240 L77.21,243 L115.47,243 L118.77,240" class="s"/>
<line x1="77.21" y1="243" x2="77.21" y2="287.2" class="s"/>
<line x1="81.51" y1="232.9" x2="81.51" y2="325.3" class="s"/>
<line x1="111.17" y1="232.9" x2="111.17" y2="325.3" class="s"/>
<line x1="115.47" y1="243" x2="115.47" y2="287.2" class="s"/>
<path d="M74.11,290.2 L77.21,287.2 L115.47,287.2 L118.77,290.2 Z" class="s"/>
<path d="M74.11,290.2 L74.11,324 Q74.11,325.3 75.41,325.3 L117.47,325.3 Q118.77,325.3 118.77,324 L118.77,290.2" class="s"/>
<circle cx="96.51" cy="276" r="16.0" fill="#fff" stroke="#000" stroke-width="2.0"/>
<circle cx="96.51" cy="276" r="11.2" fill="none" stroke="#6e6e6e" stroke-width="6.6"/>
<circle cx="96.51" cy="276" r="14.4" fill="none" stroke="#111" stroke-width="0.9"/>
<circle cx="96.51" cy="276" r="13" fill="none" stroke="#aaa" stroke-width="0.5"/>
<circle cx="96.51" cy="276" r="11.6" fill="none" stroke="#b0b0b0" stroke-width="0.5"/>
<circle cx="96.51" cy="276" r="10.2" fill="none" stroke="#aaa" stroke-width="0.5"/>
<circle cx="96.51" cy="276" r="8.7" fill="none" stroke="#999" stroke-width="0.5"/>
<circle cx="96.51" cy="276" r="7.9" fill="#fff" stroke="none"/>
<rect x="93.91" y="264.9" width="5.2" height="21.0" rx="0.8" fill="#fff" stroke="#000" stroke-width="1.4"/>
<path d="M94.51,263.3 L98.51,263.3 M94.51,288.2 L98.51,288.2" class="s" stroke-width="1.6"/>
<path d="M84.71,273.6 A2.2,2.4 0 1 0 84.71,278.2 M108.31,273.6 A2.2,2.4 0 1 1 108.31,278.2" class="s" stroke-width="1.3"/>
<circle cx="121" cy="278.9" r="5.8" class="s"/>
<path d="M117.7,283.9 Q118.77,286 118.77,290.2 M124.3,283.9 Q123.22,286 123.22,290.2" class="s"/>
<rect x="123.22" y="232.9" width="44.66" height="7.1" rx="1.4" class="s"/>
<path d="M123.22,240 L126.32,243 L164.58,243 L167.88,240" class="s"/>
<line x1="126.32" y1="243" x2="126.32" y2="287.2" class="s"/>
<line x1="130.62" y1="232.9" x2="130.62" y2="325.3" class="s"/>
<line x1="160.28" y1="232.9" x2="160.28" y2="325.3" class="s"/>
<line x1="164.58" y1="243" x2="164.58" y2="287.2" class="s"/>
<path d="M123.22,290.2 L126.32,287.2 L164.58,287.2 L167.88,290.2 Z" class="s"/>
<path d="M123.22,290.2 L123.22,324 Q123.22,325.3 124.52,325.3 L166.58,325.3 Q167.88,325.3 167.88,324 L167.88,290.2" class="s"/>
<circle cx="145.62" cy="276" r="16.0" fill="#fff" stroke="#000" stroke-width="2.0"/>
<circle cx="145.62" cy="276" r="11.2" fill="none" stroke="#6e6e6e" stroke-width="6.6"/>
<circle cx="145.62" cy="276" r="14.4" fill="none" stroke="#111" stroke-width="0.9"/>
<circle cx="145.62" cy="276" r="13" fill="none" stroke="#aaa" stroke-width="0.5"/>
<circle cx="145.62" cy="276" r="11.6" fill="none" stroke="#b0b0b0" stroke-width="0.5"/>
<circle cx="145.62" cy="276" r="10.2" fill="none" stroke="#aaa" stroke-width="0.5"/>
<circle cx="145.62" cy="276" r="8.7" fill="none" stroke="#999" stroke-width="0.5"/>
<circle cx="145.62" cy="276" r="7.9" fill="#fff" stroke="none"/>
<rect x="143.02" y="264.9" width="5.2" height="21.0" rx="0.8" fill="#fff" stroke="#000" stroke-width="1.4"/>
<path d="M143.62,263.3 L147.62,263.3 M143.62,288.2 L147.62,288.2" class="s" stroke-width="1.6"/>
<path d="M133.82,273.6 A2.2,2.4 0 1 0 133.82,278.2 M157.42,273.6 A2.2,2.4 0 1 1 157.42,278.2" class="s" stroke-width="1.3"/>
<circle cx="170.1" cy="278.9" r="5.8" class="s"/>
<path d="M166.8,283.9 Q167.88,286 167.88,290.2 M173.41,283.9 Q172.33,286 172.33,290.2" class="s"/>
<rect x="172.33" y="232.9" width="44.66" height="7.1" rx="1.4" class="s"/>
<path d="M172.33,240 L175.43,243 L213.69,243 L216.99,240" class="s"/>
<line x1="175.43" y1="243" x2="175.43" y2="287.2" class="s"/>
<line x1="179.73" y1="232.9" x2="179.73" y2="325.3" class="s"/>
<line x1="209.39" y1="232.9" x2="209.39" y2="325.3" class="s"/>
<line x1="213.69" y1="243" x2="213.69" y2="287.2" class="s"/>
<path d="M172.33,290.2 L175.43,287.2 L213.69,287.2 L216.99,290.2 Z" class="s"/>
<path d="M172.33,290.2 L172.33,324 Q172.33,325.3 173.63,325.3 L215.69,325.3 Q216.99,325.3 216.99,324 L216.99,290.2" class="s"/>
<circle cx="194.73" cy="276" r="16.0" fill="#fff" stroke="#000" stroke-width="2.0"/>
<circle cx="194.73" cy="276" r="11.2" fill="none" stroke="#6e6e6e" stroke-width="6.6"/>
<circle cx="194.73" cy="276" r="14.4" fill="none" stroke="#111" stroke-width="0.9"/>
<circle cx="194.73" cy="276" r="13" fill="none" stroke="#aaa" stroke-width="0.5"/>
<circle cx="194.73" cy="276" r="11.6" fill="none" stroke="#b0b0b0" stroke-width="0.5"/>
<circle cx="194.73" cy="276" r="10.2" fill="none" stroke="#aaa" stroke-width="0.5"/>
<circle cx="194.73" cy="276" r="8.7" fill="none" stroke="#999" stroke-width="0.5"/>
<circle cx="194.73" cy="276" r="7.9" fill="#fff" stroke="none"/>
<rect x="192.13" y="264.9" width="5.2" height="21.0" rx="0.8" fill="#fff" stroke="#000" stroke-width="1.4"/>
<path d="M192.73,263.3 L196.73,263.3 M192.73,288.2 L196.73,288.2" class="s" stroke-width="1.6"/>
<path d="M182.93,273.6 A2.2,2.4 0 1 0 182.93,278.2 M206.53,273.6 A2.2,2.4 0 1 1 206.53,278.2" class="s" stroke-width="1.3"/>
<circle cx="219.21" cy="278.9" r="5.8" class="s"/>
<path d="M215.91,283.9 Q216.99,286 216.99,290.2 M222.51,283.9 Q221.44,286 221.44,290.2" class="s"/>
<rect x="221.44" y="232.9" width="44.66" height="7.1" rx="1.4" class="s"/>
<path d="M221.44,240 L224.54,243 L262.8,243 L266.1,240" class="s"/>
<line x1="224.54" y1="243" x2="224.54" y2="287.2" class="s"/>
<line x1="228.84" y1="232.9" x2="228.84" y2="325.3" class="s"/>
<line x1="258.5" y1="232.9" x2="258.5" y2="325.3" class="s"/>
<line x1="262.8" y1="243" x2="262.8" y2="287.2" class="s"/>
<path d="M221.44,290.2 L224.54,287.2 L262.8,287.2 L266.1,290.2 Z" class="s"/>
<path d="M221.44,290.2 L221.44,324 Q221.44,325.3 222.74,325.3 L264.8,325.3 Q266.1,325.3 266.1,324 L266.1,290.2" class="s"/>
<circle cx="243.84" cy="276" r="16.0" fill="#fff" stroke="#000" stroke-width="2.0"/>
<circle cx="243.84" cy="276" r="11.2" fill="none" stroke="#6e6e6e" stroke-width="6.6"/>
<circle cx="243.84" cy="276" r="14.4" fill="none" stroke="#111" stroke-width="0.9"/>
<circle cx="243.84" cy="276" r="13" fill="none" stroke="#aaa" stroke-width="0.5"/>
<circle cx="243.84" cy="276" r="11.6" fill="none" stroke="#b0b0b0" stroke-width="0.5"/>
<circle cx="243.84" cy="276" r="10.2" fill="none" stroke="#aaa" stroke-width="0.5"/>
<circle cx="243.84" cy="276" r="8.7" fill="none" stroke="#999" stroke-width="0.5"/>
<circle cx="243.84" cy="276" r="7.9" fill="#fff" stroke="none"/>
<rect x="241.24" y="264.9" width="5.2" height="21.0" rx="0.8" fill="#fff" stroke="#000" stroke-width="1.4"/>
<path d="M241.84,263.3 L245.84,263.3 M241.84,288.2 L245.84,288.2" class="s" stroke-width="1.6"/>
<path d="M232.04,273.6 A2.2,2.4 0 1 0 232.04,278.2 M255.64,273.6 A2.2,2.4 0 1 1 255.64,278.2" class="s" stroke-width="1.3"/>
<circle cx="268.33" cy="278.9" r="5.8" class="s"/>
<path d="M265.03,283.9 Q266.1,286 266.1,290.2 M271.63,283.9 Q270.55,286 270.55,290.2" class="s"/>
<rect x="270.55" y="232.9" width="44.66" height="7.1" rx="1.4" class="s"/>
<path d="M270.55,240 L273.65,243 L311.91,243 L315.21,240" class="s"/>
<line x1="273.65" y1="243" x2="273.65" y2="287.2" class="s"/>
<line x1="277.95" y1="232.9" x2="277.95" y2="325.3" class="s"/>
<line x1="307.61" y1="232.9" x2="307.61" y2="325.3" class="s"/>
<line x1="311.91" y1="243" x2="311.91" y2="287.2" class="s"/>
<path d="M270.55,290.2 L273.65,287.2 L311.91,287.2 L315.21,290.2 Z" class="s"/>
<path d="M270.55,290.2 L270.55,324 Q270.55,325.3 271.85,325.3 L313.91,325.3 Q315.21,325.3 315.21,324 L315.21,290.2" class="s"/>
<circle cx="292.95" cy="276" r="16.0" fill="#fff" stroke="#000" stroke-width="2.0"/>
<circle cx="292.95" cy="276" r="11.2" fill="none" stroke="#6e6e6e" stroke-width="6.6"/>
<circle cx="292.95" cy="276" r="14.4" fill="none" stroke="#111" stroke-width="0.9"/>
<circle cx="292.95" cy="276" r="13" fill="none" stroke="#aaa" stroke-width="0.5"/>
<circle cx="292.95" cy="276" r="11.6" fill="none" stroke="#b0b0b0" stroke-width="0.5"/>
<circle cx="292.95" cy="276" r="10.2" fill="none" stroke="#aaa" stroke-width="0.5"/>
<circle cx="292.95" cy="276" r="8.7" fill="none" stroke="#999" stroke-width="0.5"/>
<circle cx="292.95" cy="276" r="7.9" fill="#fff" stroke="none"/>
<rect x="290.35" y="264.9" width="5.2" height="21.0" rx="0.8" fill="#fff" stroke="#000" stroke-width="1.4"/>
<path d="M290.95,263.3 L294.95,263.3 M290.95,288.2 L294.95,288.2" class="s" stroke-width="1.6"/>
<path d="M281.15,273.6 A2.2,2.4 0 1 0 281.15,278.2 M304.75,273.6 A2.2,2.4 0 1 1 304.75,278.2" class="s" stroke-width="1.3"/>
<circle cx="317.44" cy="278.9" r="5.8" class="s"/>
<path d="M314.14,283.9 Q315.21,286 315.21,290.2 M320.74,283.9 Q319.66,286 319.66,290.2" class="s"/>
<rect x="319.66" y="232.9" width="44.66" height="7.1" rx="1.4" class="s"/>
<path d="M319.66,240 L322.76,243 L361.02,243 L364.32,240" class="s"/>
<line x1="322.76" y1="243" x2="322.76" y2="287.2" class="s"/>
<line x1="327.06" y1="232.9" x2="327.06" y2="325.3" class="s"/>
<line x1="356.72" y1="232.9" x2="356.72" y2="325.3" class="s"/>
<line x1="361.02" y1="243" x2="361.02" y2="287.2" class="s"/>
<path d="M319.66,290.2 L322.76,287.2 L361.02,287.2 L364.32,290.2 Z" class="s"/>
<path d="M319.66,290.2 L319.66,324 Q319.66,325.3 320.96,325.3 L363.02,325.3 Q364.32,325.3 364.32,324 L364.32,290.2" class="s"/>
<circle cx="342.06" cy="276" r="16.0" fill="#fff" stroke="#000" stroke-width="2.0"/>
<circle cx="342.06" cy="276" r="11.2" fill="none" stroke="#6e6e6e" stroke-width="6.6"/>
<circle cx="342.06" cy="276" r="14.4" fill="none" stroke="#111" stroke-width="0.9"/>
<circle cx="342.06" cy="276" r="13" fill="none" stroke="#aaa" stroke-width="0.5"/>
<circle cx="342.06" cy="276" r="11.6" fill="none" stroke="#b0b0b0" stroke-width="0.5"/>
<circle cx="342.06" cy="276" r="10.2" fill="none" stroke="#aaa" stroke-width="0.5"/>
<circle cx="342.06" cy="276" r="8.7" fill="none" stroke="#999" stroke-width="0.5"/>
<circle cx="342.06" cy="276" r="7.9" fill="#fff" stroke="none"/>
<rect x="339.46" y="264.9" width="5.2" height="21.0" rx="0.8" fill="#fff" stroke="#000" stroke-width="1.4"/>
<path d="M340.06,263.3 L344.06,263.3 M340.06,288.2 L344.06,288.2" class="s" stroke-width="1.6"/>
<path d="M330.26,273.6 A2.2,2.4 0 1 0 330.26,278.2 M353.86,273.6 A2.2,2.4 0 1 1 353.86,278.2" class="s" stroke-width="1.3"/>
<circle cx="366.54" cy="278.9" r="5.8" class="s"/>
<path d="M363.24,283.9 Q364.32,286 364.32,290.2 M369.84,283.9 Q368.77,286 368.77,290.2" class="s"/>
<rect x="368.77" y="232.9" width="44.66" height="7.1" rx="1.4" class="s"/>
<path d="M368.77,240 L371.87,243 L410.13,243 L413.43,240" class="s"/>
<line x1="371.87" y1="243" x2="371.87" y2="287.2" class="s"/>
<line x1="376.17" y1="232.9" x2="376.17" y2="325.3" class="s"/>
<line x1="405.83" y1="232.9" x2="405.83" y2="325.3" class="s"/>
<line x1="410.13" y1="243" x2="410.13" y2="287.2" class="s"/>
<path d="M368.77,290.2 L371.87,287.2 L410.13,287.2 L413.43,290.2 Z" class="s"/>
<path d="M368.77,290.2 L368.77,324 Q368.77,325.3 370.07,325.3 L412.13,325.3 Q413.43,325.3 413.43,324 L413.43,290.2" class="s"/>
<circle cx="391.17" cy="276" r="16.0" fill="#fff" stroke="#000" stroke-width="2.0"/>
<circle cx="391.17" cy="276" r="11.2" fill="none" stroke="#6e6e6e" stroke-width="6.6"/>
<circle cx="391.17" cy="276" r="14.4" fill="none" stroke="#111" stroke-width="0.9"/>
<circle cx="391.17" cy="276" r="13" fill="none" stroke="#aaa" stroke-width="0.5"/>
<circle cx="391.17" cy="276" r="11.6" fill="none" stroke="#b0b0b0" stroke-width="0.5"/>
<circle cx="391.17" cy="276" r="10.2" fill="none" stroke="#aaa" stroke-width="0.5"/>
<circle cx="391.17" cy="276" r="8.7" fill="none" stroke="#999" stroke-width="0.5"/>
<circle cx="391.17" cy="276" r="7.9" fill="#fff" stroke="none"/>
<rect x="388.57" y="264.9" width="5.2" height="21.0" rx="0.8" fill="#fff" stroke="#000" stroke-width="1.4"/>
<path d="M389.17,263.3 L393.17,263.3 M389.17,288.2 L393.17,288.2" class="s" stroke-width="1.6"/>
<path d="M379.37,273.6 A2.2,2.4 0 1 0 379.37,278.2 M402.97,273.6 A2.2,2.4 0 1 1 402.97,278.2" class="s" stroke-width="1.3"/>
<circle cx="415.65" cy="278.9" r="5.8" class="s"/>
<path d="M412.35,283.9 Q413.43,286 413.43,290.2 M418.95,283.9 Q417.88,286 417.88,290.2" class="s"/>
<rect x="417.88" y="232.9" width="44.66" height="7.1" rx="1.4" class="s"/>
<path d="M417.88,240 L420.98,243 L459.24,243 L462.54,240" class="s"/>
<line x1="420.98" y1="243" x2="420.98" y2="287.2" class="s"/>
<line x1="425.28" y1="232.9" x2="425.28" y2="325.3" class="s"/>
<line x1="454.94" y1="232.9" x2="454.94" y2="325.3" class="s"/>
<line x1="459.24" y1="243" x2="459.24" y2="287.2" class="s"/>
<path d="M417.88,290.2 L420.98,287.2 L459.24,287.2 L462.54,290.2 Z" class="s"/>
<path d="M417.88,290.2 L417.88,324 Q417.88,325.3 419.18,325.3 L461.24,325.3 Q462.54,325.3 462.54,324 L462.54,290.2" class="s"/>
<circle cx="440.28" cy="276" r="16.0" fill="#fff" stroke="#000" stroke-width="2.0"/>
<circle cx="440.28" cy="276" r="11.2" fill="none" stroke="#6e6e6e" stroke-width="6.6"/>
<circle cx="440.28" cy="276" r="14.4" fill="none" stroke="#111" stroke-width="0.9"/>
<circle cx="440.28" cy="276" r="13" fill="none" stroke="#aaa" stroke-width="0.5"/>
<circle cx="440.28" cy="276" r="11.6" fill="none" stroke="#b0b0b0" stroke-width="0.5"/>
<circle cx="440.28" cy="276" r="10.2" fill="none" stroke="#aaa" stroke-width="0.5"/>
<circle cx="440.28" cy="276" r="8.7" fill="none" stroke="#999" stroke-width="0.5"/>
<circle cx="440.28" cy="276" r="7.9" fill="#fff" stroke="none"/>
<rect x="437.68" y="264.9" width="5.2" height="21.0" rx="0.8" fill="#fff" stroke="#000" stroke-width="1.4"/>
<path d="M438.28,263.3 L442.28,263.3 M438.28,288.2 L442.28,288.2" class="s" stroke-width="1.6"/>
<path d="M428.48,273.6 A2.2,2.4 0 1 0 428.48,278.2 M452.08,273.6 A2.2,2.4 0 1 1 452.08,278.2" class="s" stroke-width="1.3"/>
<circle cx="464.76" cy="278.9" r="5.8" class="s"/>
<path d="M461.46,283.9 Q462.54,286 462.54,290.2 M468.06,283.9 Q466.99,286 466.99,290.2" class="s"/>
<rect x="466.99" y="232.9" width="44.66" height="7.1" rx="1.4" class="s"/>
<path d="M466.99,240 L470.09,243 L508.35,243 L511.65,240" class="s"/>
<line x1="470.09" y1="243" x2="470.09" y2="287.2" class="s"/>
<line x1="474.39" y1="232.9" x2="474.39" y2="325.3" class="s"/>
<line x1="504.05" y1="232.9" x2="504.05" y2="325.3" class="s"/>
<line x1="508.35" y1="243" x2="508.35" y2="287.2" class="s"/>
<path d="M466.99,290.2 L470.09,287.2 L508.35,287.2 L511.65,290.2 Z" class="s"/>
<path d="M466.99,290.2 L466.99,324 Q466.99,325.3 468.29,325.3 L510.35,325.3 Q511.65,325.3 511.65,324 L511.65,290.2" class="s"/>
<circle cx="489.39" cy="276" r="16.0" fill="#fff" stroke="#000" stroke-width="2.0"/>
<circle cx="489.39" cy="276" r="11.2" fill="none" stroke="#6e6e6e" stroke-width="6.6"/>
<circle cx="489.39" cy="276" r="14.4" fill="none" stroke="#111" stroke-width="0.9"/>
<circle cx="489.39" cy="276" r="13" fill="none" stroke="#aaa" stroke-width="0.5"/>
<circle cx="489.39" cy="276" r="11.6" fill="none" stroke="#b0b0b0" stroke-width="0.5"/>
<circle cx="489.39" cy="276" r="10.2" fill="none" stroke="#aaa" stroke-width="0.5"/>
<circle cx="489.39" cy="276" r="8.7" fill="none" stroke="#999" stroke-width="0.5"/>
<circle cx="489.39" cy="276" r="7.9" fill="#fff" stroke="none"/>
<rect x="486.79" y="264.9" width="5.2" height="21.0" rx="0.8" fill="#fff" stroke="#000" stroke-width="1.4"/>
<path d="M487.39,263.3 L491.39,263.3 M487.39,288.2 L491.39,288.2" class="s" stroke-width="1.6"/>
<path d="M477.59,273.6 A2.2,2.4 0 1 0 477.59,278.2 M501.19,273.6 A2.2,2.4 0 1 1 501.19,278.2" class="s" stroke-width="1.3"/>
<line x1="511.5" y1="233.1" x2="542" y2="233.1" class="s"/>
<line x1="511.5" y1="325.5" x2="542" y2="325.5" class="s"/>
<line x1="540.2" y1="233.1" x2="540.2" y2="266.8" class="s"/>
<line x1="540.2" y1="297.4" x2="540.2" y2="325.5" class="s"/>
<path d="M540.2,233.1 L542.1,245.6 L538.3,245.6 Z" fill="#000" stroke="none"/>
<path d="M540.2,325.5 L538.3,313 L542.1,313 Z" fill="#000" stroke="none"/>
<text class="dim" transform="translate(545.2,297.8) rotate(-90) scale(0.77,1)">19. 70</text>
<line x1="25.2" y1="326" x2="25.2" y2="357" class="s"/>
<line x1="511.5" y1="326" x2="511.5" y2="357" class="s"/>
<line x1="25.2" y1="356.5" x2="258" y2="356.5" class="s"/>
<line x1="296.5" y1="356.5" x2="511.5" y2="356.5" class="s"/>
<path d="M25.2,356.5 L36,354.6 L36,358.4 Z" fill="#000" stroke="none"/>
<path d="M511.5,356.5 L500.7,358.4 L500.7,354.6 Z" fill="#000" stroke="none"/>
<text class="dim" transform="translate(258.8,361.4) scale(0.77,1)">104. 00</text>
<rect x="25" y="404.9" width="44.7" height="48.9" rx="7" class="b"/>
<path d="M30.6,453.9 L31.4,483.6 Q31.5,485 33,485 L61.8,485 Q63.3,485 63.4,483.6 L64.1,453.9" class="b"/>
<line x1="32" y1="484.2" x2="63" y2="484.2" stroke="#444" stroke-width="1.6"/>
<path d="M69.7,425.2 H74.11 M69.7,433 H74.11" class="s"/>
<rect x="74.11" y="404.9" width="44.7" height="48.9" rx="7" class="b"/>
<path d="M79.71,453.9 L80.51,483.6 Q80.61,485 82.11,485 L110.91,485 Q112.41,485 112.51,483.6 L113.21,453.9" class="b"/>
<line x1="81.11" y1="484.2" x2="112.11" y2="484.2" stroke="#444" stroke-width="1.6"/>
<path d="M118.81,425.2 H123.22 M118.81,433 H123.22" class="s"/>
<rect x="123.22" y="404.9" width="44.7" height="48.9" rx="7" class="b"/>
<path d="M128.82,453.9 L129.62,483.6 Q129.72,485 131.22,485 L160.02,485 Q161.52,485 161.62,483.6 L162.32,453.9" class="b"/>
<line x1="130.22" y1="484.2" x2="161.22" y2="484.2" stroke="#444" stroke-width="1.6"/>
<path d="M167.92,425.2 H172.33 M167.92,433 H172.33" class="s"/>
<rect x="172.33" y="404.9" width="44.7" height="48.9" rx="7" class="b"/>
<path d="M177.93,453.9 L178.73,483.6 Q178.83,485 180.33,485 L209.13,485 Q210.63,485 210.73,483.6 L211.43,453.9" class="b"/>
<line x1="179.33" y1="484.2" x2="210.33" y2="484.2" stroke="#444" stroke-width="1.6"/>
<path d="M217.03,425.2 H221.44 M217.03,433 H221.44" class="s"/>
<rect x="221.44" y="404.9" width="44.7" height="48.9" rx="7" class="b"/>
<path d="M227.04,453.9 L227.84,483.6 Q227.94,485 229.44,485 L258.24,485 Q259.74,485 259.84,483.6 L260.54,453.9" class="b"/>
<line x1="228.44" y1="484.2" x2="259.44" y2="484.2" stroke="#444" stroke-width="1.6"/>
<path d="M266.14,425.2 H270.55 M266.14,433 H270.55" class="s"/>
<rect x="270.55" y="404.9" width="44.7" height="48.9" rx="7" class="b"/>
<path d="M276.15,453.9 L276.95,483.6 Q277.05,485 278.55,485 L307.35,485 Q308.85,485 308.95,483.6 L309.65,453.9" class="b"/>
<line x1="277.55" y1="484.2" x2="308.55" y2="484.2" stroke="#444" stroke-width="1.6"/>
<path d="M315.25,425.2 H319.66 M315.25,433 H319.66" class="s"/>
<rect x="319.66" y="404.9" width="44.7" height="48.9" rx="7" class="b"/>
<path d="M325.26,453.9 L326.06,483.6 Q326.16,485 327.66,485 L356.46,485 Q357.96,485 358.06,483.6 L358.76,453.9" class="b"/>
<line x1="326.66" y1="484.2" x2="357.66" y2="484.2" stroke="#444" stroke-width="1.6"/>
<path d="M364.36,425.2 H368.77 M364.36,433 H368.77" class="s"/>
<rect x="368.77" y="404.9" width="44.7" height="48.9" rx="7" class="b"/>
<path d="M374.37,453.9 L375.17,483.6 Q375.27,485 376.77,485 L405.57,485 Q407.07,485 407.17,483.6 L407.87,453.9" class="b"/>
<line x1="375.77" y1="484.2" x2="406.77" y2="484.2" stroke="#444" stroke-width="1.6"/>
<path d="M413.47,425.2 H417.88 M413.47,433 H417.88" class="s"/>
<rect x="417.88" y="404.9" width="44.7" height="48.9" rx="7" class="b"/>
<path d="M423.48,453.9 L424.28,483.6 Q424.38,485 425.88,485 L454.68,485 Q456.18,485 456.28,483.6 L456.98,453.9" class="b"/>
<line x1="424.88" y1="484.2" x2="455.88" y2="484.2" stroke="#444" stroke-width="1.6"/>
<path d="M462.58,425.2 H466.99 M462.58,433 H466.99" class="s"/>
<rect x="466.99" y="404.9" width="44.7" height="48.9" rx="7" class="b"/>
<path d="M472.59,453.9 L473.39,483.6 Q473.49,485 474.99,485 L503.79,485 Q505.29,485 505.39,483.6 L506.09,453.9" class="b"/>
<line x1="473.99" y1="484.2" x2="504.99" y2="484.2" stroke="#444" stroke-width="1.6"/>
</svg></body></html>
